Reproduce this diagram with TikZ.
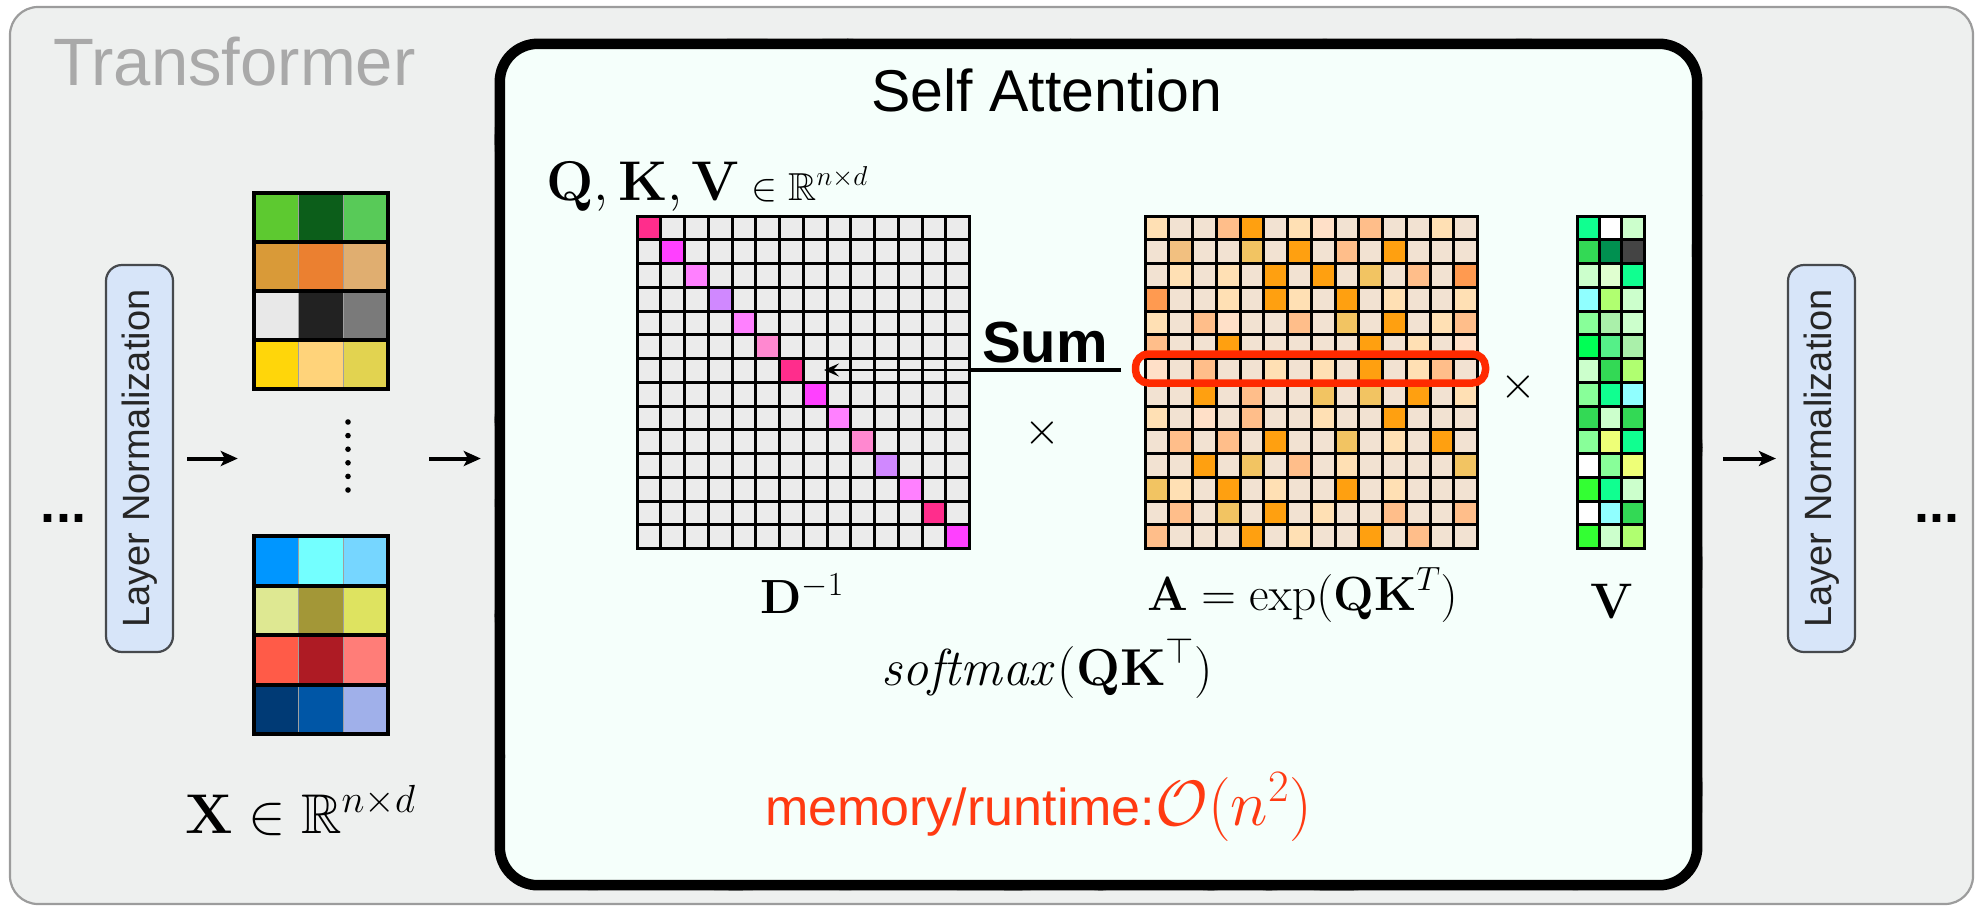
\RequirePackage{fix-cm}
\documentclass[tikz,border=0pt]{standalone}
\usepackage{amssymb}
\usepackage[no-math]{fontspec}
\setmainfont{Liberation Sans}
\usetikzlibrary{arrows.meta,fit,decorations.pathmorphing}

% general colours
\definecolor{panelfill}{HTML}{EEF0EF}
\definecolor{panelline}{HTML}{9C9C9C}
\definecolor{titlegray}{HTML}{A9A9A9}
\definecolor{safill}{HTML}{F5FFFB}
\definecolor{lnfill}{HTML}{D7E5F9}
\definecolor{lnline}{HTML}{46494D}
\definecolor{cellgray}{HTML}{EBEBEB}
\definecolor{selred}{HTML}{FF2A00}
\definecolor{memred}{HTML}{FF3A12}
% token embeddings (upper block)
\definecolor{t00}{HTML}{5DC930}\definecolor{t01}{HTML}{0C5E1A}\definecolor{t02}{HTML}{58CA58}
\definecolor{t10}{HTML}{D99A38}\definecolor{t11}{HTML}{EB8030}\definecolor{t12}{HTML}{E0AE70}
\definecolor{t20}{HTML}{E8E8E8}\definecolor{t21}{HTML}{222222}\definecolor{t22}{HTML}{7A7A7A}
\definecolor{t30}{HTML}{FFD60A}\definecolor{t31}{HTML}{FFD37A}\definecolor{t32}{HTML}{E2D350}
% token embeddings (lower block)
\definecolor{b00}{HTML}{0096FF}\definecolor{b01}{HTML}{73FFFF}\definecolor{b02}{HTML}{76D6FF}
\definecolor{b10}{HTML}{DEE892}\definecolor{b11}{HTML}{A39737}\definecolor{b12}{HTML}{DEE360}
\definecolor{b20}{HTML}{FF5B48}\definecolor{b21}{HTML}{AE1B24}\definecolor{b22}{HTML}{FF7D78}
\definecolor{b30}{HTML}{003A75}\definecolor{b31}{HTML}{0056A6}\definecolor{b32}{HTML}{A0B0EA}
% diagonal of D^{-1}
\definecolor{d0}{HTML}{FF2D8C}\definecolor{d1}{HTML}{FF40FF}\definecolor{d2}{HTML}{FF80FF}
\definecolor{d3}{HTML}{D088FF}\definecolor{d5}{HTML}{FF88D0}
% attention scores
\definecolor{a0}{HTML}{F2E2D2}\definecolor{a1}{HTML}{FFE0B4}\definecolor{a2}{HTML}{FFBE8A}
\definecolor{a3}{HTML}{FFA010}\definecolor{a4}{HTML}{F2C462}\definecolor{a5}{HTML}{FFE0C8}
\definecolor{a6}{HTML}{FF9A50}\definecolor{a7}{HTML}{F2C080}
% values
\definecolor{vA}{HTML}{10FF90}\definecolor{vW}{HTML}{FFFFFF}\definecolor{vL}{HTML}{CCFFCC}
\definecolor{vG}{HTML}{33D955}\definecolor{vD}{HTML}{009050}\definecolor{vK}{HTML}{444444}
\definecolor{vE}{HTML}{E0FFD0}\definecolor{vC}{HTML}{90FFFF}\definecolor{vY}{HTML}{B0FF70}
\definecolor{vM}{HTML}{88FF99}\definecolor{vS}{HTML}{AAF0AA}\definecolor{vB}{HTML}{00FF55}
\definecolor{vN}{HTML}{55F088}\definecolor{vJ}{HTML}{EEFF77}\definecolor{vH}{HTML}{33FF33}

\begin{document}
\begin{tikzpicture}[x=1pt,y=-1pt,
  flow/.style={line width=4pt,-{Stealth[length=17pt,width=15pt,inset=4pt]}},
  lnbox/.style={fill=lnfill,draw=lnline,line width=2.2pt,rounded corners=16pt,
    minimum width=67pt,minimum height=387pt,inner sep=0},
  lntext/.style={rotate=90,font=\fontsize{38}{44}\selectfont,text=black!85,inner sep=0},
  gridline/.style={line width=3pt,line cap=rect},
  dotsstyle/.style={font=\bfseries\fontsize{54}{60}\selectfont,inner sep=0,anchor=base},
  wobble/.style={line width=8pt,line cap=round,decorate,
    decoration={random steps,segment length=28pt,amplitude=1.3pt}},
  lbl/.style={inner sep=0}
]
\useasboundingbox (0,0) rectangle (1980,908);

% outer transformer panel
\draw[fill=panelfill,draw=panelline,line width=2.2pt,rounded corners=28pt]
  (10,7) rectangle (1973,904);
\node[anchor=base west,inner sep=0,text=titlegray,font=\fontsize{67}{80}\selectfont]
  (ttl) at (53,85) {Transformer};

% self-attention block with a hand-drawn border
\node[fit={(500,44) (1697,885)},inner sep=0] (sa) {};
\fill[safill,rounded corners=38pt] (sa.north west) rectangle (sa.south east);
\draw[line width=10.5pt,rounded corners=38pt] (sa.north west) rectangle (sa.south east);
\pgfmathsetseed{11}
\draw[wobble] ([xshift=40pt]sa.north west) -- ([xshift=-40pt]sa.north east);
\draw[wobble] ([xshift=40pt]sa.south west) -- ([xshift=-40pt]sa.south east);
\draw[wobble] ([yshift=-40pt]sa.north west) -- ([yshift=40pt]sa.south west);
\draw[wobble] ([yshift=-40pt]sa.north east) -- ([yshift=40pt]sa.south east);
\node[anchor=base,inner sep=0,font=\fontsize{59}{70}\selectfont] (satitle) at (1047,111) {Self Attention};

% layer normalisation boxes
\node[lnbox] (lnL) at (139.5,458.5) {};
\node[lntext] (lnLt) at (lnL.center) {Layer Normalization};
\node[lnbox] (lnR) at (1821.5,458.5) {};
\node[lntext] (lnRt) at (lnR.center) {Layer Normalization};
\node[dotsstyle] (dotsL) at (63.5,522) {...};
\node[dotsstyle] (dotsR) at (1936.5,522) {...};

% input tokens X
\foreach \r in {0,...,3}
  \foreach \c in {0,1,2}
    \fill[t\r\c] ({254+\c*44.67},{193+\r*49}) rectangle ++(44.67,49);
\foreach \r in {0,...,3}
  \foreach \c in {1,2}
    \draw[gray!75,line width=1pt] ({254+\c*44.67},{193+\r*49}) -- ++(0,49);
\foreach \r in {0,...,3}
  \draw[line width=4pt] (254,{193+\r*49}) rectangle ++(134,49);
\foreach \r in {0,...,3}
  \foreach \c in {0,1,2}
    \fill[b\r\c] ({254+\c*44.67},{536+\r*49.5}) rectangle ++(44.67,49.5);
\foreach \r in {0,...,3}
  \foreach \c in {1,2}
    \draw[gray!75,line width=1pt] ({254+\c*44.67},{536+\r*49.5}) -- ++(0,49.5);
\foreach \r in {0,...,3}
  \draw[line width=4pt] (254,{536+\r*49.5}) rectangle ++(134,49.5);
\foreach \k in {0,...,5}
  \fill (348,{422+\k*13.6}) circle (2.8pt);
\node[fit={(254,193) (388,734)},inner sep=0] (xs) {};
\node[lbl,anchor=base west] (xlab) at (185,833)
  {\fontsize{56}{60}\selectfont$\mathbf{X}\in\mathbb{R}^{n\times d}$};

% arrows between the stages
\draw[flow,shorten <=13pt,shorten >=16pt] (lnL.east) -- (lnL.east -| xs.west);
\draw[flow,shorten <=41pt,shorten >=19pt] (lnL.east -| xs.east) -- (lnL.east -| sa.west);
\draw[flow,shorten <=26pt,shorten >=11pt] (lnR.west -| sa.east) -- (lnR.west);

% Q, K, V label
\node[lbl,anchor=base west] (qkv) at (546,200)
  {\fontsize{56}{60}\selectfont$\mathbf{Q},\mathbf{K},\mathbf{V}$\fontsize{39}{44}\selectfont$\;\in\mathbb{R}^{n\times d}$};

% D^{-1}: diagonal matrix
\foreach \r in {0,...,13}
  \foreach \c in {0,...,13}
    \fill[cellgray] ({637+\c*23.75},{216+\r*23.75}) rectangle ++(23.75,23.75);
\foreach \dc [count=\i from 0] in {d0,d1,d2,d3,d2,d5,d0,d1,d2,d5,d3,d2,d0,d1}
  \fill[\dc] ({637+\i*23.75},{216+\i*23.75}) rectangle ++(23.75,23.75);
\foreach \k in {0,...,14} {
  \draw[gridline] ({637+\k*23.75},216) -- ++(0,332.5);
  \draw[gridline] (637,{216+\k*23.75}) -- ++(332.5,0);
}
\node[lbl,anchor=base] (dlab) at (802,613) {\fontsize{48}{52}\selectfont$\mathbf{D}^{-1}$};

% A = exp(QK^T)
\foreach \rowcodes [count=\r from 0] in {
  {1,0,0,2,3,0,1,5,0,2,0,0,1,0},
  {0,7,0,0,4,0,3,0,2,0,3,0,0,0},
  {0,1,0,1,0,3,0,3,0,4,0,2,0,6},
  {6,0,0,1,0,3,1,0,3,0,1,0,0,1},
  {1,0,2,5,0,0,2,0,4,0,3,0,1,2},
  {2,0,0,3,0,0,0,0,0,3,0,1,0,5},
  {5,0,2,0,0,1,0,1,0,3,0,1,2,0},
  {0,0,3,0,2,0,0,4,0,4,0,3,0,1},
  {1,0,5,0,2,0,0,1,0,0,3,0,0,0},
  {0,2,0,2,0,3,0,0,4,0,1,0,3,0},
  {0,0,3,0,4,0,2,0,1,0,0,0,0,4},
  {4,1,0,3,0,1,0,0,3,0,1,0,0,0},
  {0,2,0,4,0,3,0,1,0,0,2,0,0,2},
  {2,0,0,0,3,0,1,0,0,3,0,2,0,0}}
  \foreach \code [count=\c from 0] in \rowcodes
    \fill[a\code] ({1145+\c*23.75},{216+\r*23.75}) rectangle ++(23.75,23.75);
\foreach \k in {0,...,14} {
  \draw[gridline] ({1145+\k*23.75},216) -- ++(0,332.5);
  \draw[gridline] (1145,{216+\k*23.75}) -- ++(332.5,0);
}
\node[lbl,anchor=base west] (alab) at (1147,610)
  {\fontsize{48}{52}\selectfont$\mathbf{A}=\exp(\mathbf{QK}^{T})$};

% V
\foreach \rowcodes [count=\r from 0] in
  {{A,W,L},{G,D,K},{L,E,A},{C,Y,L},{M,S,L},{B,N,S},{L,G,Y},
   {M,A,C},{G,L,G},{M,J,A},{W,M,J},{H,A,L},{W,C,G},{H,L,Y}}
  \foreach \code [count=\c from 0] in \rowcodes
    \fill[v\code] ({1577+\c*22.33},{216+\r*23.75}) rectangle ++(22.33,23.75);
\foreach \k in {0,...,3}
  \draw[gridline] ({1577+\k*22.33},216) -- ++(0,332.5);
\foreach \k in {0,...,14}
  \draw[gridline] (1577,{216+\k*23.75}) -- ++(67,0);
\node[lbl,anchor=base] (vlab) at (1612,618) {\fontsize{50}{54}\selectfont$\mathbf{V}$};

% multiplication signs
\node[lbl] (mul1) at (1042,433) {\fontsize{46}{50}\selectfont$\times$};
\node[lbl] (mul2) at (1518,387) {\fontsize{46}{50}\selectfont$\times$};

% selected row of A and its row sum
\node[fit={(1135.5,354) (1485.5,383)},inner sep=0,draw=selred,line width=7.5pt,
  rounded corners=13pt] (rowsel) {};
\node[anchor=base west,inner sep=0,font=\bfseries\fontsize{58}{64}\selectfont] (sum) at (982,362) {Sum};
\coordinate (sumR) at (1121,370);
\coordinate (sumL) at (970,370);
\coordinate (diagtip) at (824,370);
\draw[line width=4.5pt] (sumR) -- (sumL);
\draw[line width=2.5pt,-{Stealth[length=15pt,width=13pt,inset=6pt]}] (sumL) -- (diagtip);

% softmax and complexity
\node[lbl,anchor=base west] (smx) at (881,685)
  {\fontsize{52}{56}\selectfont$\mathit{softmax}(\mathbf{QK}^{\top})$};
\node[lbl,anchor=base west,text=memred] (mem) at (765,825)
  {\fontsize{52}{60}\selectfont memory/runtime:\fontsize{64}{70}\selectfont$\mathcal{O}(n^2)$};
\end{tikzpicture}
\end{document}
